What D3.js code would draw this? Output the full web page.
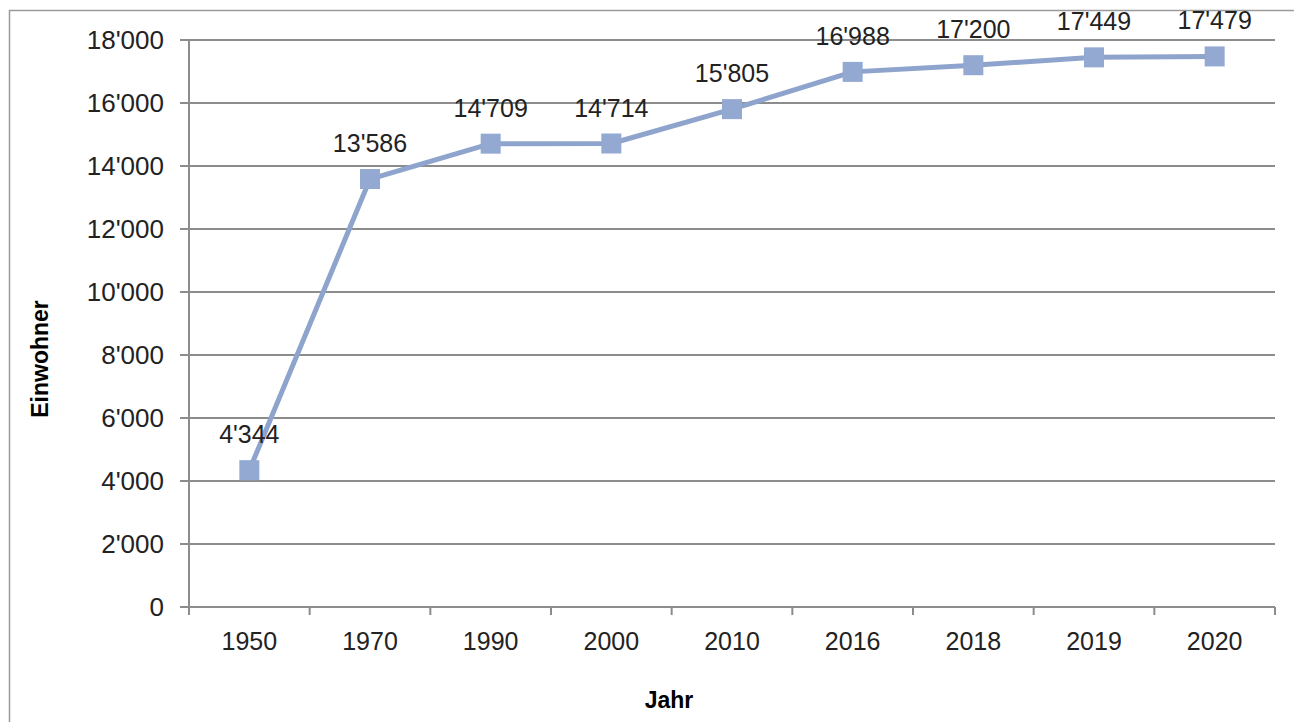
<!DOCTYPE html>
<html>
<head>
<meta charset="utf-8">
<script src="https://cdn.jsdelivr.net/npm/d3@7"></script>
<style>
  body { margin: 0; background: #fff; }
  svg { display: block; font-family: "Liberation Sans", Arial, sans-serif; }
</style>
</head>
<body>
<div id="chart"></div>
<script>
// data
var years = ["1950", "1970", "1990", "2000", "2010", "2016", "2018", "2019", "2020"];
var einwohner = [4344, 13586, 14709, 14714, 15805, 16988, 17200, 17449, 17479];
var yTicks = [0, 2000, 4000, 6000, 8000, 10000, 12000, 14000, 16000, 18000];

var W = 1294, H = 722;
var margin = {top: 40, right: 20, bottom: 115, left: 189},
    width = 1275 - margin.left,
    height = 607 - margin.top;

var fmt = function(v) {
  return d3.format(",")(v).replace(/,/g, "'");
};

var svg = d3.select("#chart").append("svg")
    .attr("width", W)
    .attr("height", H);

// outer frame
svg.append("rect")
    .attr("x", 9.5).attr("y", 10.5)
    .attr("width", W).attr("height", H)
    .attr("fill", "none")
    .attr("stroke", "#9a9a9a")
    .attr("stroke-width", 1.5);

var g = svg.append("g")
    .attr("transform", "translate(" + margin.left + "," + margin.top + ")");

var x = d3.scaleBand()
    .domain(years)
    .range([0, width]);

var y = d3.scaleLinear()
    .domain([0, 18000])
    .range([height, 0]);

// gridlines
g.selectAll("line.grid")
    .data(yTicks)
    .enter().append("line")
    .attr("class", "grid")
    .attr("x1", -9).attr("x2", width)
    .attr("y1", function(d) { return y(d); })
    .attr("y2", function(d) { return y(d); })
    .attr("stroke", "#8c8c8c")
    .attr("stroke-width", 2);

// y axis line
g.append("line")
    .attr("x1", 0).attr("x2", 0)
    .attr("y1", 0).attr("y2", height + 8)
    .attr("stroke", "#8c8c8c")
    .attr("stroke-width", 2);

// y tick labels
g.selectAll("text.ylab")
    .data(yTicks)
    .enter().append("text")
    .attr("class", "ylab")
    .attr("x", -25)
    .attr("y", function(d) { return y(d); })
    .attr("dy", "0.36em")
    .attr("text-anchor", "end")
    .attr("font-size", 26)
    .attr("fill", "#222")
    .text(fmt);

// x axis
var xAxis = g.append("g")
    .attr("transform", "translate(0," + height + ")");

var bounds = years.map(function(d) { return x(d); }).concat([width]);
xAxis.selectAll("line.tick")
    .data(bounds)
    .enter().append("line")
    .attr("x1", function(d) { return d; })
    .attr("x2", function(d) { return d; })
    .attr("y1", 0).attr("y2", 8)
    .attr("stroke", "#8c8c8c")
    .attr("stroke-width", 2);

xAxis.selectAll("text")
    .data(years)
    .enter().append("text")
    .attr("x", function(d) { return x(d) + x.bandwidth() / 2; })
    .attr("y", 43)
    .attr("text-anchor", "middle")
    .attr("font-size", 25)
    .attr("fill", "#222")
    .text(function(d) { return d; });

// line
var line = d3.line()
    .x(function(d, i) { return x(years[i]) + x.bandwidth() / 2; })
    .y(function(d) { return y(d); });

g.append("path")
    .datum(einwohner)
    .attr("d", line)
    .attr("fill", "none")
    .attr("stroke", "#8ea4cd")
    .attr("stroke-width", 5)
    .attr("stroke-linejoin", "round");

// markers
g.selectAll("rect.marker")
    .data(einwohner)
    .enter().append("rect")
    .attr("class", "marker")
    .attr("x", function(d, i) { return x(years[i]) + x.bandwidth() / 2 - 10; })
    .attr("y", function(d) { return y(d) - 10; })
    .attr("width", 20).attr("height", 20)
    .attr("fill", "#93a9d2");

// data labels
g.selectAll("text.dlab")
    .data(einwohner)
    .enter().append("text")
    .attr("class", "dlab")
    .attr("x", function(d, i) { return x(years[i]) + x.bandwidth() / 2; })
    .attr("y", function(d) { return y(d) - 27; })
    .attr("text-anchor", "middle")
    .attr("font-size", 25)
    .attr("fill", "#222")
    .text(fmt);

// axis titles
svg.append("text")
    .attr("x", 669).attr("y", 708)
    .attr("text-anchor", "middle")
    .attr("font-size", 23)
    .attr("font-weight", "bold")
    .text("Jahr");

svg.append("text")
    .attr("transform", "translate(48,359) rotate(-90)")
    .attr("text-anchor", "middle")
    .attr("font-size", 23)
    .attr("font-weight", "bold")
    .text("Einwohner");
</script>
</body>
</html>
